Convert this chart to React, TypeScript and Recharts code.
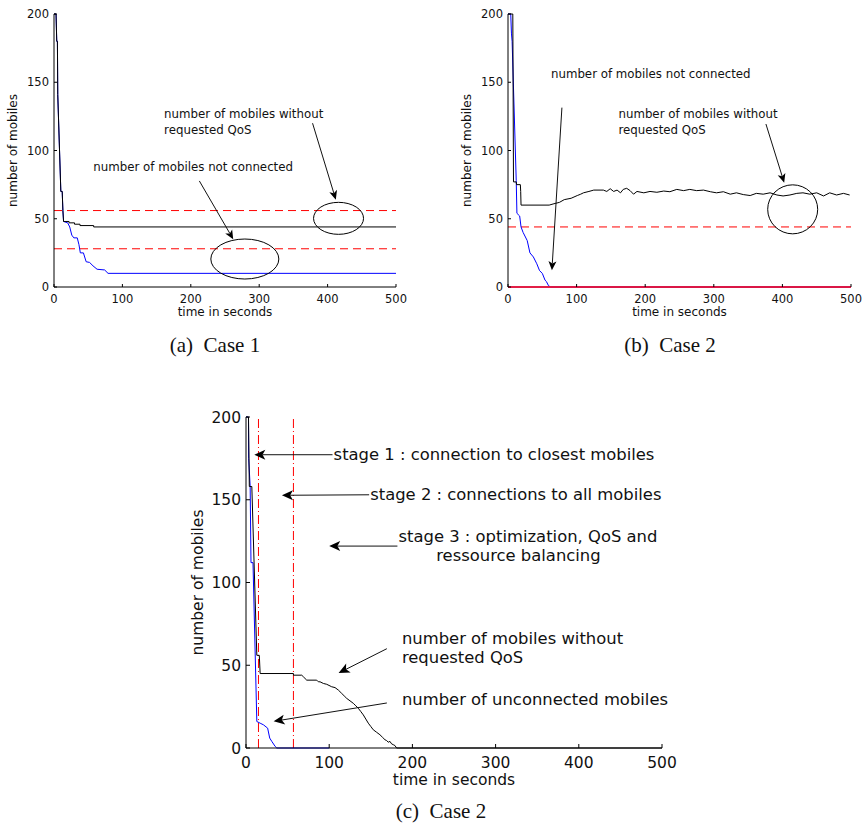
import React from "react";
import { LineChart, Line, XAxis, YAxis, ReferenceLine, ReferenceDot, Label } from "recharts";

const timeTicks = [0, 100, 200, 300, 400, 500];
const countTicks = [0, 50, 100, 150, 200];

// (a) case 1
const case1QosTime = [0, 3, 4, 5, 5.5, 10, 12, 13, 14, 22, 22, 30, 30, 38, 38, 58, 58, 500];
const case1QosCount = [200, 200, 180, 180, 141, 70, 70, 56, 48, 48, 47, 47, 46, 46, 45, 45, 44, 44];
const case1ConnTime = [0, 3, 4, 5, 5.5, 10, 12, 13, 14, 20, 23, 26, 29, 34, 36.5, 38.5, 43, 47, 52, 57, 63, 74, 79, 500];
const case1ConnCount = [200, 200, 180, 180, 141, 70, 70, 56, 48, 47, 44, 38, 36, 36, 31, 25, 25, 18.5, 18, 15.5, 13, 12.5, 10, 10];
const case1Targets = [56, 28];

// (b) case 2
const case2QosTime = [
  0, 7, 8, 12, 12.5, 18, 18.5, 19, 60, 67, 75, 82, 92, 101, 106, 110, 118, 125, 139, 144, 149, 154, 159, 164,
  168, 173, 178, 183, 188, 198, 207, 217, 227, 236, 246, 256, 265, 275, 285, 295, 304, 314, 324, 333, 343,
  353, 362, 372, 382, 392, 401, 411, 421, 430, 440, 450, 460, 469, 479, 489, 498,
];
const case2QosCount = [
  200, 200, 77, 77, 75, 75, 70, 60, 60, 61, 62, 64, 65, 67, 68, 69, 70, 71, 71, 70, 72, 70, 71, 69,
  71.5, 72.3, 70.6, 68, 70, 69, 70, 69.4, 70.3, 69.8, 71.5, 70.6, 71.5, 70.6, 71, 69.8, 69, 69.8, 68, 69, 67.7,
  67, 68.6, 68, 69, 67.4, 66.7, 67.4, 68.6, 69, 68, 69, 66.7, 69, 67.4, 68.6, 67.4,
];
const case2ConnTime = [0, 4, 5, 6, 12, 13, 17, 19, 22, 28, 32, 37, 42, 46, 50, 54, 56, 59, 62, 500];
const case2ConnCount = [200, 200, 186, 180, 78, 54, 52, 44, 40, 34, 25, 22, 17, 12, 10, 5, 4, 1, 0, 0];
const case2Targets = [44];
const case2ConnTarget = 0;

// (c) case 2, stages
const stageQosTime = [
  0, 3, 4, 7, 13, 16, 17, 57, 57, 67, 69, 73, 85, 87, 89, 93, 97, 103, 107, 111, 115, 118, 121, 125, 129, 132, 135,
  138, 141, 144, 147, 150, 153, 157, 161, 164, 167, 169, 171, 173, 175, 177, 179, 181, 500,
];
const stageQosCount = [
  200, 200, 158, 158, 56, 56, 45, 45, 44, 44, 43, 41, 41, 40, 40, 39, 38.5, 37, 36.5, 35, 33, 31.5, 30, 28.5, 27, 25.5, 24,
  22, 20, 17.5, 15, 13, 11, 9.5, 8, 6.5, 5, 4.5, 3.5, 4, 2.5, 2, 1.5, 0, 0,
];
const stageConnTime = [0, 3, 3.2, 5, 6, 8.4, 13, 17, 21, 26, 28.5, 31, 35, 37, 100];
const stageConnCount = [200, 200, 175, 158, 112, 112, 16, 15, 14, 12, 6, 4, 1, 0, 0];
const stageBounds = [15, 57];

const zip = (t: number[], v: number[]) => t.map((x, i) => ({ t: x, v: v[i] }));

type Note = { x: number; y: number; lines: string[] };
type Arrow = { from: [number, number]; to: [number, number] };
type Ring = { x: number; y: number; rx: number; ry: number };

const case1Notes: Note[] = [
  { x: 161, y: 124, lines: ["number of mobiles without", "requested QoS"] },
  { x: 57.5, y: 85, lines: ["number of mobiles not connected"] },
];
const case1Arrows: Arrow[] = [
  { from: [378, 120], to: [412, 64] },
  { from: [212.5, 77.7], to: [262, 35] },
];
const case1Rings: Ring[] = [
  { x: 416, y: 50.3, rx: 25, ry: 16 },
  { x: 279, y: 20.5, rx: 34, ry: 20 },
];

const case2Notes: Note[] = [
  { x: 62.6, y: 152.9, lines: ["number of mobiles not connected"] },
  { x: 161, y: 123.6, lines: ["number of mobiles without", "requested QoS"] },
];
const case2Arrows: Arrow[] = [
  { from: [78.6, 131.4], to: [64, 12.3] },
  { from: [376, 119.4], to: [402.6, 76.4] },
];
const case2Rings: Ring[] = [{ x: 415, y: 56.9, rx: 25, ry: 24.5 }];

const stageNotes: Note[] = [
  { x: 105.3, y: 173.8, lines: ["stage 1 : connection to closest mobiles"] },
  { x: 149.3, y: 149.6, lines: ["stage 2 : connections to all mobiles"] },
  { x: 183.3, y: 124.5, lines: ["stage 3 : optimization, QoS and"] },
  { x: 228.6, y: 113, lines: ["ressource balancing"] },
  { x: 187.4, y: 63, lines: ["number of mobiles without", "requested QoS"] },
  { x: 187.4, y: 26.2, lines: ["number of unconnected mobiles"] },
];
const stageArrows: Arrow[] = [
  { from: [104, 177.2], to: [10, 177.2] },
  { from: [148, 153], to: [43.2, 152.7] },
  { from: [182, 122], to: [100, 122] },
  { from: [169.3, 60], to: [111.3, 45.3] },
  { from: [169.3, 27.2], to: [33.2, 16.1] },
];

const FONT = "DejaVu Sans";

function arrowShape(len: number, half: number) {
  return (p: any) => {
    const { x1, y1, x2, y2 } = p;
    const a = Math.atan2(y2 - y1, x2 - x1);
    const c = Math.cos(a);
    const s = Math.sin(a);
    const pt = (back: number, side: number) => `${x2 - back * c - side * s},${y2 - back * s + side * c}`;
    const notch = len * 0.75;
    return (
      <g>
        <line x1={x1} y1={y1} x2={x2 - notch * c} y2={y2 - notch * s} stroke="#111" strokeWidth={1} />
        <polygon points={[pt(0, 0), pt(len, half), pt(notch, 0), pt(len, -half)].join(" ")} fill="#000" />
      </g>
    );
  };
}

function noteShape(lines: string[], size: number, gap: number) {
  return (p: any) => (
    <text x={p.cx} y={p.cy} fontFamily={FONT} fontSize={size} fill="#111">
      {lines.map((ln, i) => (
        <tspan key={i} x={p.cx} dy={i === 0 ? 0 : gap}>
          {ln}
        </tspan>
      ))}
    </text>
  );
}

interface PanelProps {
  width: number;
  height: number;
  margin: { top: number; right: number; bottom: number; left: number };
  yWidth: number;
  xHeight: number;
  fontSize: number;
  labelSize: number;
  noteSize: number;
  lineGap: number;
  tickSize: number;
  xTickMargin: number;
  yLabelOffset: number;
  xLabelOffset: number;
  arrowLen: number;
  arrowHalf: number;
  qos: { t: number; v: number }[];
  conn: { t: number; v: number }[];
  notes: Note[];
  arrows: Arrow[];
  rings?: Ring[];
  xAxisColor?: string;
  children?: React.ReactNode;
  after?: React.ReactNode;
}

function Panel(props: PanelProps) {
  const fs = props.fontSize;
  return (
    <LineChart width={props.width} height={props.height} margin={props.margin}>
      <XAxis
        dataKey="t"
        type="number"
        domain={[0, 500]}
        ticks={timeTicks}
        height={props.xHeight}
        axisLine={{ stroke: props.xAxisColor || "#000", strokeWidth: props.xAxisColor ? 1.6 : 1 }}
        tickLine={{ stroke: "#000" }}
        tickSize={-props.tickSize}
        tickMargin={props.xTickMargin}
        tick={{ fill: "#111", fontSize: fs, fontFamily: FONT }}
        interval={0}
      >
        <Label
          value="time in seconds"
          position="insideBottom"
          offset={props.xLabelOffset}
          style={{ fontSize: props.labelSize, fontFamily: FONT, fill: "#111" }}
        />
      </XAxis>
      <YAxis
        type="number"
        domain={[0, 200]}
        ticks={countTicks}
        width={props.yWidth}
        axisLine={{ stroke: "#000" }}
        tickLine={{ stroke: "#000" }}
        tickSize={-props.tickSize}
        tickMargin={props.tickSize + 5}
        tick={{ fill: "#111", fontSize: fs, fontFamily: FONT }}
        interval={0}
      >
        <Label
          value="number of mobiles"
          angle={-90}
          position="insideLeft"
          offset={props.yLabelOffset}
          style={{ textAnchor: "middle", fontSize: props.labelSize, fontFamily: FONT, fill: "#111" }}
        />
      </YAxis>
      {props.children}
      <Line data={props.conn} dataKey="v" stroke="#0000ff" strokeWidth={1} dot={false} isAnimationActive={false} />
      <Line data={props.qos} dataKey="v" stroke="#000" strokeWidth={1} dot={false} isAnimationActive={false} />
      {props.after}
      {(props.rings || []).map((r, i) => (
        <ReferenceDot
          key={`r${i}`}
          x={r.x}
          y={r.y}
          r={1}
          ifOverflow="visible"
          shape={(p: any) => <ellipse cx={p.cx} cy={p.cy} rx={r.rx} ry={r.ry} fill="none" stroke="#000" strokeWidth={1} />}
        />
      ))}
      {props.arrows.map((a, i) => (
        <ReferenceLine
          key={`a${i}`}
          segment={[{ x: a.from[0], y: a.from[1] }, { x: a.to[0], y: a.to[1] }]}
          ifOverflow="visible"
          shape={arrowShape(props.arrowLen, props.arrowHalf)}
        />
      ))}
      {props.notes.map((n, i) => (
        <ReferenceDot
          key={`n${i}`}
          x={n.x}
          y={n.y}
          r={1}
          ifOverflow="visible"
          shape={noteShape(n.lines, props.noteSize, props.lineGap)}
        />
      ))}
    </LineChart>
  );
}

const captionStyle: React.CSSProperties = {
  position: "absolute",
  width: 200,
  textAlign: "center",
  fontFamily: "Liberation Serif",
  fontSize: 21,
  lineHeight: "20px",
  color: "#111",
  whiteSpace: "pre",
};

export default function App() {
  return (
    <div style={{ position: "absolute", left: 0, top: 0, width: 864, height: 829, background: "#fff" }}>
      <div style={{ position: "absolute", left: 0, top: 0 }}>
        <Panel
          width={430}
          height={340}
          margin={{ top: 14, right: 34, bottom: 13, left: 0 }}
          yWidth={54}
          xHeight={40}
          fontSize={11.5}
          labelSize={12}
          noteSize={11.8}
          lineGap={16}
          tickSize={3}
          xTickMargin={11}
          yLabelOffset={13}
          xLabelOffset={11}
          arrowLen={9}
          arrowHalf={4}
          qos={zip(case1QosTime, case1QosCount)}
          conn={zip(case1ConnTime, case1ConnCount)}
          notes={case1Notes}
          arrows={case1Arrows}
          rings={case1Rings}
        >
          {case1Targets.map((y) => (
            <ReferenceLine key={y} y={y} stroke="#ff0000" strokeDasharray="8 5" strokeWidth={1} />
          ))}
        </Panel>
      </div>
      <div style={{ position: "absolute", left: 454, top: 0 }}>
        <Panel
          width={410}
          height={340}
          margin={{ top: 14, right: 13, bottom: 13, left: 0 }}
          yWidth={54}
          xHeight={40}
          fontSize={11.5}
          labelSize={12}
          noteSize={11.8}
          lineGap={16}
          tickSize={3}
          xTickMargin={11}
          yLabelOffset={13}
          xLabelOffset={11}
          arrowLen={9}
          arrowHalf={4}
          qos={zip(case2QosTime, case2QosCount)}
          conn={zip(case2ConnTime, case2ConnCount)}
          notes={case2Notes}
          arrows={case2Arrows}
          rings={case2Rings}
          xAxisColor="#e0103a"
          after={<ReferenceLine y={case2ConnTarget} stroke="#e0103a" strokeWidth={1.6} />}
        >
          {case2Targets.map((y) => (
            <ReferenceLine key={y} y={y} stroke="#ff0000" strokeDasharray="8 5" strokeWidth={1} />
          ))}
        </Panel>
      </div>
      <div style={{ position: "absolute", left: 180, top: 400 }}>
        <Panel
          width={500}
          height={429}
          margin={{ top: 17, right: 18, bottom: 31, left: 0 }}
          yWidth={66}
          xHeight={50}
          fontSize={15.5}
          labelSize={15.5}
          noteSize={16.4}
          lineGap={19}
          tickSize={4}
          xTickMargin={13}
          yLabelOffset={17}
          xLabelOffset={13}
          arrowLen={11}
          arrowHalf={5}
          qos={zip(stageQosTime, stageQosCount)}
          conn={zip(stageConnTime, stageConnCount)}
          notes={stageNotes}
          arrows={stageArrows}
        >
          {stageBounds.map((x) => (
            <ReferenceLine key={x} x={x} stroke="#ff0000" strokeDasharray="9 3 1 3" strokeWidth={1} />
          ))}
        </Panel>
      </div>
      <div style={{ ...captionStyle, left: 115, top: 335 }}>{"(a)  Case 1"}</div>
      <div style={{ ...captionStyle, left: 570, top: 335 }}>{"(b)  Case 2"}</div>
      <div style={{ ...captionStyle, left: 341, top: 801 }}>{"(c)  Case 2"}</div>
    </div>
  );
}
